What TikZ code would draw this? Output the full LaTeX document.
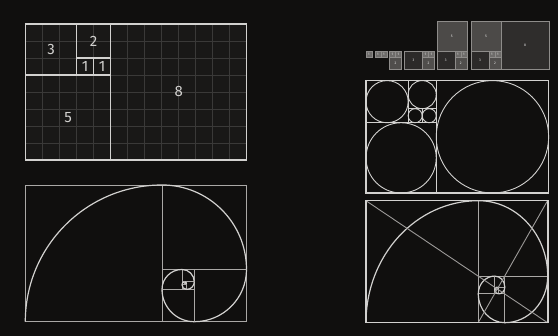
\documentclass[tikz,border=0pt]{standalone}
\usepackage{fontspec}
\setmainfont{Fira Sans}
\usepackage{xcolor}
\usepackage{tikz}
\usetikzlibrary{calc}

\definecolor{bgdark}{HTML}{100F0E}
\definecolor{panelfill}{HTML}{191817}
\definecolor{gridgray}{HTML}{3A3938}
\definecolor{linegray}{HTML}{D2D1CF}
\definecolor{softgray}{HTML}{AAA8A6}
\definecolor{diaggray}{HTML}{9C9A98}
\definecolor{tileedge}{HTML}{8E8C8A}
\definecolor{sqone}{HTML}{6E6C6A}
\definecolor{sqtwo}{HTML}{504E4C}
\definecolor{sqthree}{HTML}{2C2A29}
\definecolor{sqfive}{HTML}{4C4A48}
\definecolor{sqeight}{HTML}{2F2D2C}

\tikzset{
  gridline/.style={draw=gridgray, line width=0.5pt},
  boldline/.style={draw=linegray, line width=1.1pt},
  thinline/.style={draw=softgray, line width=0.8pt},
  spiralline/.style={draw=linegray, line width=1.2pt},
  diagline/.style={draw=diaggray, line width=0.9pt},
  circleline/.style={draw=linegray, line width=0.9pt},
  numlabel/.style={text=linegray, font=\fontsize{15}{15}\selectfont, inner sep=0pt},
  tileline/.style={draw=tileedge, line width=0.5pt},
  tilelabel/.style={text=white!85!gray, font=\fontsize{3.5}{3.5}\selectfont, inner sep=0pt}
}

% one coloured square of the small sequence: x, y, size, fill, label, name
\newcommand{\fibtile}[6]{%
  \draw[tileline, fill=#4] (#1,#2) rectangle ++(#3,#3);
  \node[tilelabel] (#6) at ({#1+#3/2},{#2+#3/2}) {#5};
}
% the 3 | 1 1 / 2 block
\newcommand{\fibcore}[1]{%
  \fibtile{0}{0}{3}{sqthree}{3}{#1c}
  \fibtile{3}{2}{1}{sqone}{1}{#1a}
  \fibtile{4}{2}{1}{sqone}{1}{#1b}
  \fibtile{3}{0}{2}{sqtwo}{2}{#1d}
}

\begin{document}
\begin{tikzpicture}[x=1pt, y=1pt]
\fill[bgdark] (0,0) rectangle (558,336);
\useasboundingbox (0,0) rectangle (558,336);

% Fibonacci grid
\begin{scope}[shift={(25.7,176)}, x=17pt, y=17pt]
  \fill[panelfill] (0,0) rectangle (13,8);
  \foreach \i in {1,...,12} \draw[gridline] (\i,0) -- (\i,8);
  \foreach \j in {1,...,7} \draw[gridline] (0,\j) -- (13,\j);
  \draw[boldline] (0,0) rectangle (13,8);
  \draw[boldline] (5,0) -- (5,8) (0,5) -- (5,5) (3,5) -- (3,8)
                  (3,6) -- (5,6) (4,5) -- (4,6);
  \node[numlabel] (g8) at (9,4) {8};
  \node[numlabel] (g5) at (2.5,2.5) {5};
  \node[numlabel] (g3) at (1.5,6.5) {3};
  \node[numlabel] (g2) at (4,7) {2};
  \node[numlabel] (g1a) at (3.5,5.5) {1};
  \node[numlabel] (g1b) at (4.5,5.5) {1};
\end{scope}

% Growing sequence of squares
\begin{scope}[shift={(366,266.7)}, x=6pt, y=6pt]
  \begin{scope}[shift={(0,0)}]
    \fibtile{0}{2}{1}{sqone}{1}{ta}
  \end{scope}
  \begin{scope}[shift={(1.5,0)}]
    \fibtile{0}{2}{1}{sqone}{1}{tba}
    \fibtile{1}{2}{1}{sqone}{1}{tbb}
  \end{scope}
  \begin{scope}[shift={(3.9,0)}]
    \fibtile{0}{2}{1}{sqone}{1}{tca}
    \fibtile{1}{2}{1}{sqone}{1}{tcb}
    \fibtile{0}{0}{2}{sqtwo}{2}{tcd}
  \end{scope}
  \begin{scope}[shift={(6.4,0)}]
    \fibcore{td}
  \end{scope}
  \begin{scope}[shift={(11.8,0)}]
    \fibcore{te}
    \fibtile{0}{3}{5}{sqfive}{5}{tef}
  \end{scope}
  \begin{scope}[shift={(17.5,0)}]
    \fibcore{tf}
    \fibtile{0}{3}{5}{sqfive}{5}{tff}
    \fibtile{5}{0}{8}{sqeight}{8}{tfg}
  \end{scope}
\end{scope}

% Circles in the squares
\begin{scope}[shift={(366,143)}, x=14.05pt, y=14.05pt]
  \draw[boldline] (0,0) rectangle (13,8);
  \draw[boldline] (5,0) -- (5,8) (0,5) -- (5,5) (3,5) -- (3,8)
                  (3,6) -- (5,6) (4,5) -- (4,6);
  \draw[circleline] (9,4) circle (4);
  \draw[circleline] (2.5,2.5) circle (2.5);
  \draw[circleline] (1.5,6.5) circle (1.5);
  \draw[circleline] (4,7) circle (1);
  \draw[circleline] (3.5,5.5) circle (0.5);
  \draw[circleline] (4.5,5.5) circle (0.5);
\end{scope}

% Golden spiral
\begin{scope}[shift={(25.3,14.3)}, scale=136.7]
  \draw[thinline] (0,0) rectangle (1.618034,1);
  \foreach \k in {0,...,9} {
    \pgfmathsetmacro{\shrink}{1.618034^(-\k)}
    \begin{scope}[shift={(1.170820,0.276393)}, rotate=-90*\k, scale=\shrink]
      \draw[thinline] (-1.170820,-0.276393) rectangle ++(1,1);
      \draw[spiralline] (-1.170820,-0.276393) arc (180:90:1);
    \end{scope}
  }
\end{scope}

% Stretched spiral with diagonals
\begin{scope}[shift={(366,13.3)}, xscale=112.3, yscale=122]
  \foreach \k in {0,...,9} {
    \pgfmathsetmacro{\shrink}{1.618034^(-\k)}
    \begin{scope}[shift={(1.170820,0.276393)}, rotate=-90*\k, scale=\shrink]
      \draw[thinline] (-1.170820,-0.276393) rectangle ++(1,1);
      \draw[spiralline] (-1.170820,-0.276393) arc (180:90:1);
    \end{scope}
  }
  \coordinate (tl) at (0,1);
  \coordinate (br) at (1.618034,0);
  \coordinate (tr) at (1.618034,1);
  \coordinate (cut) at (1,0);
  \draw[diagline] (tl) -- (br);
  \draw[diagline] (tr) -- (cut);
  \draw[boldline, line width=1.6pt] (0,0) rectangle (1.618034,1);
\end{scope}
\end{tikzpicture}
\end{document}
